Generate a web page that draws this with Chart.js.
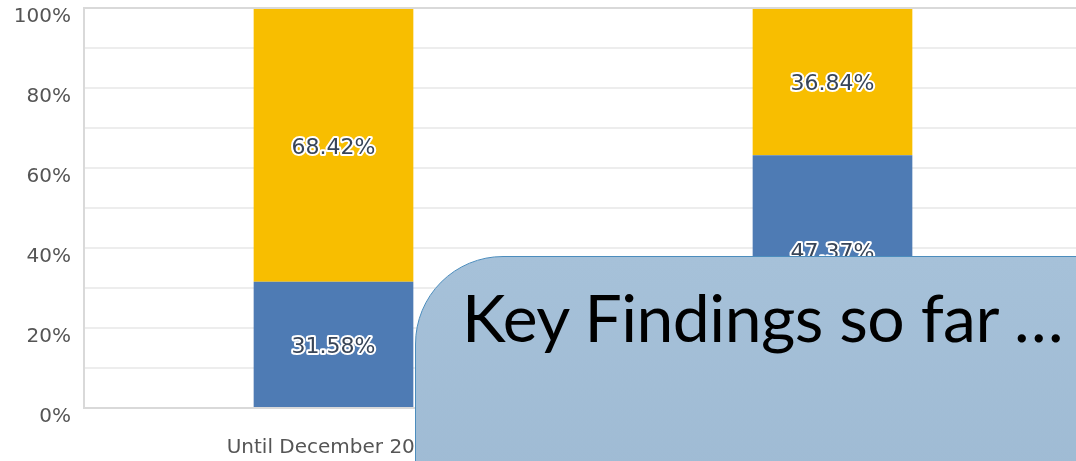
<!DOCTYPE html>
<html>
<head>
<meta charset="utf-8">
<script src="https://cdn.jsdelivr.net/npm/chart.js@4/dist/chart.umd.min.js"></script>
<style>
  html, body { margin: 0; padding: 0; background: #fff; overflow: hidden; width: 1076px; height: 461px; }
  #wrap { position: relative; width: 1090px; height: 461px; }
  #c { position: absolute; left: 0; top: 0; }
  #note {
    position: absolute; left: 415px; top: 256px; width: 720px; height: 260px;
    box-sizing: border-box;
    background: linear-gradient(#a6c1d9, #9ebad3);
    border: 1.5px solid #4c8dbd;
    border-top-left-radius: 88px;
  }
  #note span {
    position: absolute; left: 46px; top: 20px;
    font-family: Lato, "Open Sans", sans-serif; font-size: 66px; color: #000;
    letter-spacing: -0.5px; white-space: nowrap;
  }
</style>
</head>
<body>
<div id="wrap">
  <canvas id="c" width="1090" height="461"></canvas>
  <div id="note"><span>Key Findings so far …</span></div>
</div>
<script>
const categories = ["Until December 2019", "After December 2019"];
const seriesOther = [0, 15.79];
const seriesBlue = [31.58, 47.37];
const seriesYellow = [68.42, 36.84];
const yTicks = [0, 20, 40, 60, 80, 100];

const labelPlugin = {
  id: 'segLabels',
  afterDatasetsDraw(chart) {
    const ctx = chart.ctx;
    ctx.save();
    ctx.font = '22px "DejaVu Sans", sans-serif';
    ctx.textAlign = 'center';
    ctx.textBaseline = 'middle';
    ctx.lineJoin = 'round';
    chart.data.datasets.forEach((ds, i) => {
      const meta = chart.getDatasetMeta(i);
      meta.data.forEach((bar, j) => {
        const v = ds.data[j];
        if (!v) return;
        const p = bar.getProps(['x', 'y', 'base'], true);
        const cy = (p.y + p.base) / 2 + 3;
        const txt = v.toFixed(2) + '%';
        ctx.lineWidth = 4;
        ctx.strokeStyle = '#ffffff';
        ctx.strokeText(txt, p.x, cy);
        ctx.fillStyle = '#384558';
        ctx.fillText(txt, p.x, cy);
      });
    });
    ctx.restore();
  }
};

new Chart(document.getElementById('c'), {
  type: 'bar',
  data: {
    labels: categories,
    datasets: [
      { label: 'Other', data: seriesOther, backgroundColor: '#6bc8cd' },
      { label: 'Blue', data: seriesBlue, backgroundColor: '#4e7bb4' },
      { label: 'Yellow', data: seriesYellow, backgroundColor: '#f8be00' }
    ]
  },
  options: {
    responsive: false,
    animation: false,
    layout: { padding: { top: 8, left: 0, right: 8, bottom: 0 } },
    plugins: { legend: { display: false }, tooltip: { enabled: false } },
    datasets: { bar: { categoryPercentage: 1, barPercentage: 0.32 } },
    scales: {
      x: {
        stacked: true,
        grid: { display: false, drawTicks: false },
        border: { display: true, color: '#d9d9d9', width: 2 },
        ticks: { color: '#555', font: { family: '"DejaVu Sans", sans-serif', size: 20, lineHeight: 1 }, padding: 30, maxRotation: 0 },
        afterFit(s) { s.height = 53; }
      },
      y: {
        stacked: true,
        min: 0, max: 100,
        afterBuildTicks(s) {
          const t = [];
          for (let v = 0; v <= 100; v += 10) t.push({ value: v });
          s.ticks = t;
        },
        grid: { color: '#ededed', lineWidth: 2, drawTicks: false },
        border: { display: true, color: '#d9d9d9', width: 2 },
        ticks: {
          color: '#555',
          font: { family: '"DejaVu Sans", sans-serif', size: 20, lineHeight: 1 },
          padding: 13,
          labelOffset: 9,
          callback(v) { return yTicks.includes(v) ? v + '%' : ''; }
        },
        afterFit(s) { s.width = 84; s.paddingTop = 0; s.paddingBottom = 0; }
      }
    }
  },
  plugins: [labelPlugin, {
    id: 'topBorder',
    afterDraw(chart) {
      const a = chart.chartArea, ctx = chart.ctx;
      ctx.save();
      ctx.strokeStyle = '#d9d9d9'; ctx.lineWidth = 2;
      ctx.beginPath(); ctx.moveTo(a.left, a.top); ctx.lineTo(a.right, a.top); ctx.stroke();
      ctx.restore();
    }
  }]
});
</script>
</body>
</html>
